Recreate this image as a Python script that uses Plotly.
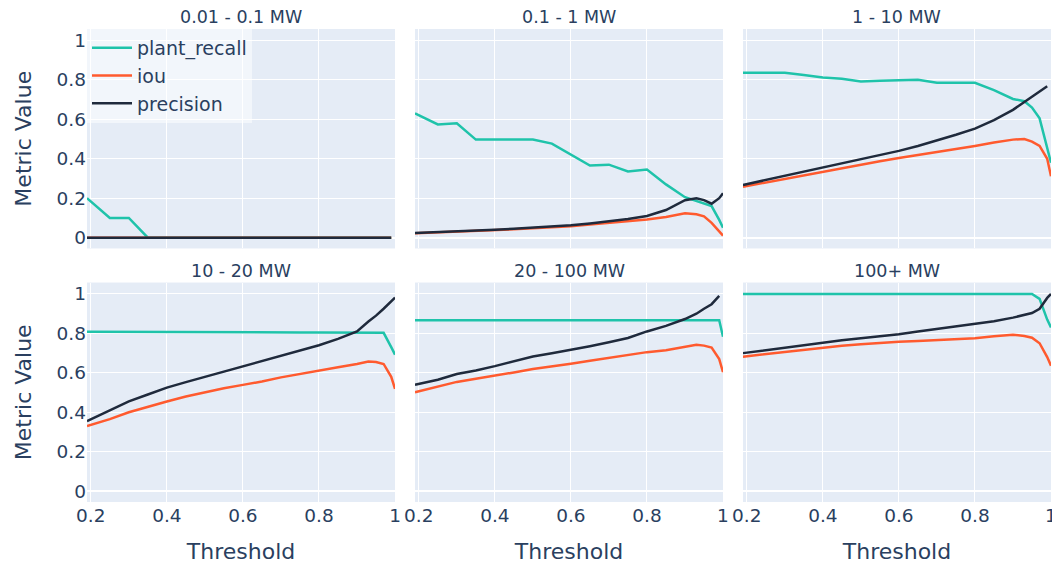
import plotly.graph_objects as go
from plotly.subplots import make_subplots

thresholds = [0.19, 0.25, 0.30, 0.35, 0.40, 0.45, 0.50, 0.55, 0.60, 0.65,
              0.70, 0.75, 0.80, 0.85, 0.90, 0.93, 0.95, 0.97, 0.99, 1.00]

bins = ["0.01 - 0.1 MW", "0.1 - 1 MW", "1 - 10 MW",
        "10 - 20 MW", "20 - 100 MW", "100+ MW"]

metrics = ["plant_recall", "iou", "precision"]
colors = {"plant_recall": "#1FC3AA", "iou": "#FF5A2E", "precision": "#1F2A3C"}

recall_b1 = [0.2, 0.1, 0.1, 0, 0, 0, 0, 0, 0, 0, 0, 0, 0, 0, 0, 0, 0, 0, 0, None]
iou_b1 = [0, 0, 0, 0, 0, 0, 0, 0, 0, 0, 0, 0, 0, 0, 0, 0, 0, 0, 0, None]
precision_b1 = [0, 0, 0, 0, 0, 0, 0, 0, 0, 0, 0, 0, 0, 0, 0, 0, 0, 0, 0, None]

recall_b2 = [0.63, 0.574, 0.58, 0.497, 0.497, 0.497, 0.497, 0.477, 0.42, 0.366,
             0.37, 0.336, 0.345, 0.27, 0.205, 0.185, 0.175, 0.16, 0.09, 0.05]
iou_b2 = [0.022, 0.026, 0.03, 0.034, 0.038, 0.042, 0.047, 0.052, 0.058, 0.066,
          0.074, 0.082, 0.092, 0.105, 0.123, 0.118, 0.108, 0.075, 0.03, 0.01]
precision_b2 = [0.024, 0.028, 0.032, 0.036, 0.04, 0.045, 0.05, 0.056, 0.063, 0.072,
                0.082, 0.094, 0.11, 0.14, 0.19, 0.2, 0.19, 0.172, 0.2, 0.225]

recall_b3 = [0.836, 0.836, 0.836, 0.825, 0.812, 0.806, 0.792, 0.795, 0.797, 0.8,
             0.786, 0.785, 0.785, 0.748, 0.703, 0.692, 0.66, 0.605, 0.45, 0.38]
iou_b3 = [0.258, 0.28, 0.298, 0.316, 0.333, 0.351, 0.369, 0.387, 0.404, 0.419,
          0.433, 0.448, 0.465, 0.482, 0.497, 0.5, 0.487, 0.465, 0.4, 0.311]
precision_b3 = [0.267, 0.292, 0.313, 0.334, 0.355, 0.376, 0.397, 0.418, 0.44, 0.465,
                0.492, 0.522, 0.553, 0.596, 0.648, 0.688, 0.715, 0.742, 0.768, None]

recall_b4 = [0.808, 0.808, 0.807, 0.807, 0.806, 0.806, 0.806, 0.805, 0.805, 0.805,
             0.805, 0.805, 0.804, 0.804, 0.803, 0.803, 0.803, 0.803, 0.73, 0.692]
iou_b4 = [0.33, 0.365, 0.40, 0.428, 0.455, 0.48, 0.502, 0.522, 0.539, 0.556,
          0.577, 0.595, 0.611, 0.628, 0.645, 0.657, 0.655, 0.645, 0.58, 0.519]
precision_b4 = [0.355, 0.41, 0.455, 0.49, 0.525, 0.553, 0.58, 0.607, 0.635, 0.662,
                0.69, 0.715, 0.74, 0.772, 0.81, 0.86, 0.89, 0.925, 0.96, 0.981]

recall_b5 = [0.867, 0.867, 0.867, 0.867, 0.867, 0.867, 0.867, 0.867, 0.867, 0.867,
             0.867, 0.867, 0.867, 0.867, 0.867, 0.867, 0.867, 0.867, 0.867, 0.783]
iou_b5 = [0.502, 0.53, 0.554, 0.57, 0.585, 0.602, 0.62, 0.632, 0.646, 0.661,
          0.675, 0.69, 0.705, 0.715, 0.73, 0.742, 0.738, 0.728, 0.67, 0.603]
precision_b5 = [0.54, 0.565, 0.594, 0.612, 0.634, 0.66, 0.683, 0.699, 0.716, 0.735,
                0.755, 0.777, 0.81, 0.838, 0.873, 0.9, 0.925, 0.948, 0.99, None]

recall_b6 = [1.0, 1.0, 1.0, 1.0, 1.0, 1.0, 1.0, 1.0, 1.0, 1.0,
             1.0, 1.0, 1.0, 1.0, 1.0, 1.0, 1.0, 0.975, 0.87, 0.83]
iou_b6 = [0.682, 0.695, 0.707, 0.718, 0.729, 0.737, 0.745, 0.752, 0.758, 0.762,
          0.767, 0.772, 0.776, 0.785, 0.793, 0.787, 0.778, 0.75, 0.68, 0.636]
precision_b6 = [0.70, 0.715, 0.728, 0.741, 0.754, 0.765, 0.775, 0.785, 0.796, 0.81,
                0.823, 0.835, 0.846, 0.862, 0.88, 0.893, 0.903, 0.925, 0.98, 1.0]

data = [
    (recall_b1, iou_b1, precision_b1),
    (recall_b2, iou_b2, precision_b2),
    (recall_b3, iou_b3, precision_b3),
    (recall_b4, iou_b4, precision_b4),
    (recall_b5, iou_b5, precision_b5),
    (recall_b6, iou_b6, precision_b6),
]

fig = make_subplots(rows=2, cols=3, shared_xaxes=True, shared_yaxes=True,
                    subplot_titles=bins, horizontal_spacing=0.0207,
                    vertical_spacing=0.072)

for i, series in enumerate(data):
    r, c = i // 3 + 1, i % 3 + 1
    for name, vals in zip(metrics, series):
        fig.add_trace(go.Scatter(x=thresholds, y=vals, mode="lines", name=name,
                                 showlegend=(i == 0),
                                 line=dict(color=colors[name], width=2.5)),
                      row=r, col=c)

fig.update_xaxes(range=[0.19, 1.0], tickvals=[0.2, 0.4, 0.6, 0.8, 1.0],
                 ticktext=["0.2", "0.4", "0.6", "0.8", "1"],
                 tickfont=dict(size=18.5), automargin=False)
fig.update_yaxes(range=[-0.055, 1.058], tickvals=[0, 0.2, 0.4, 0.6, 0.8, 1.0],
                 ticktext=["0", "0.2", "0.4", "0.6", "0.8", "1"],
                 tickfont=dict(size=18.5), zerolinewidth=2, automargin=False)
for c in range(1, 4):
    fig.update_xaxes(title=dict(text="Threshold", font=dict(size=22), standoff=19),
                     row=2, col=c)
for r in range(1, 3):
    fig.update_yaxes(title=dict(text="Metric Value", font=dict(size=22), standoff=18),
                     row=r, col=1)

for ann in fig.layout.annotations:
    ann.font = dict(size=17.5, color="#2a3f5f", family="DejaVu Sans")

# the page body adds an 8px offset, so the figure is sized to fit inside
fig.update_layout(
    width=1052, height=561,
    template="plotly",
    font=dict(family="DejaVu Sans", color="#2a3f5f"),
    margin=dict(l=79, r=9, t=21, b=67),
    legend=dict(x=0.0, y=1.0, xanchor="left", yanchor="top", tracegroupgap=0,
                itemwidth=40, bgcolor="rgba(255,255,255,0.5)",
                font=dict(size=19)),
)

fig.write_html("out.html")
